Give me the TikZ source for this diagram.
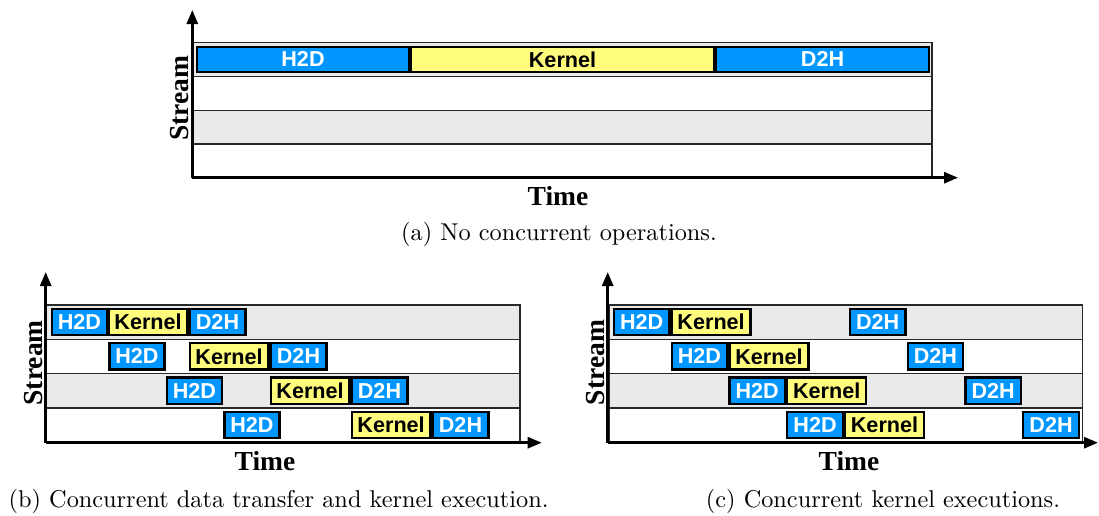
\documentclass[tikz,border=0pt]{standalone}
\usepackage{fontspec}
\newfontfamily\barfont{Liberation Sans}
\newfontfamily\axfont{Liberation Serif}
\newfontfamily\captfont[Extension=.otf]{lmroman10-regular}
\usetikzlibrary{arrows.meta}
\definecolor{xferblue}{RGB}{0,150,255}
\definecolor{kernyellow}{RGB}{255,251,125}
\definecolor{rowgray}{RGB}{234,234,234}
\definecolor{rowline}{RGB}{40,40,40}
\tikzset{
  bar/.style={draw=black, line width=2.3pt, inner sep=0pt,
    font=\barfont\bfseries\fontsize{21.6}{21.6}\selectfont},
  xfer/.style={bar, fill=xferblue, text=white},
  kern/.style={bar, fill=kernyellow, text=black},
  lane/.style={draw=rowline, line width=1.4pt},
  axis/.style={line width=2.7pt, -{Triangle[length=14pt,width=11pt]}},
  axlabel/.style={inner sep=0pt, font=\axfont\bfseries\fontsize{27.5}{27.5}\selectfont},
  capt/.style={inner sep=0pt, font=\captfont\fontsize{24.3}{24.3}\selectfont},
}
% bar: style, name, left x, right x, centre y, height, label
\newcommand\opbar[7]{%
  \node[#1, minimum width={#4-#3-2.3}, minimum height=#6] (#2) at ({(#3+#4)/2},#5) {#7};}
\begin{document}
\begin{tikzpicture}[x=1pt, y=-1pt]
\useasboundingbox (0,0) rectangle (1099,515);

% ---------- (a) no concurrency ----------
\foreach \i in {0,...,3} {
  \pgfmathsetmacro\top{42.7+33.75*\i}
  \ifodd\i \def\fc{white}\else\def\fc{rowgray}\fi
  \path[lane, fill=\fc] (192.7,\top) rectangle (932,\top+33.75);
}
\opbar{xfer}{aH}{196}{410}{59.4}{25.1}{H2D}
\opbar{kern}{aK}{410}{715}{59.4}{25.1}{Kernel}
\opbar{xfer}{aD}{715}{930}{59.4}{25.1}{D2H}
\coordinate (aO) at (192.3,177.7);
\coordinate (aY) at (192.3,10);
\coordinate (aX) at (958,177.7);
\draw[axis] (aO) -- (aY);
\draw[axis] (aO) -- (aX);
\node[axlabel, rotate=90, anchor=base] (aS) at (188.3,98.4) {Stream};
\node[axlabel, anchor=base] (aT) at (558,205.5) {Time};
\node[capt, anchor=base] (aC) at (559,240) {(a) No concurrent operations.};

% ---------- (b) transfer / kernel overlap ----------
\foreach \i in {0,...,3} {
  \pgfmathsetmacro\top{305+34.35*\i}
  \ifodd\i \def\fc{white}\else\def\fc{rowgray}\fi
  \path[lane, fill=\fc] (46.7,\top) rectangle (520,\top+34.35);
}
\foreach \i in {0,...,3} {
  \pgfmathsetmacro\yc{322+34.35*\i}
  \pgfmathsetmacro\hl{50.7+57.5*\i}
  \pgfmathsetmacro\hr{108.2+57.5*\i}
  \pgfmathsetmacro\kl{107.7+81*\i}
  \pgfmathsetmacro\kr{188.5+81*\i}
  \pgfmathsetmacro\dr{246.5+81*\i}
  \opbar{xfer}{bH\i}{\hl}{\hr}{\yc}{26.3}{H2D}
  \opbar{kern}{bK\i}{\kl}{\kr}{\yc}{26.3}{Kernel}
  \opbar{xfer}{bD\i}{\kr}{\dr}{\yc}{26.3}{D2H}
}
\coordinate (bO) at (45.7,442.7);
\coordinate (bY) at (45.7,272);
\coordinate (bX) at (541.7,442.7);
\draw[axis] (bO) -- (bY);
\draw[axis] (bO) -- (bX);
\node[axlabel, rotate=90, anchor=base] (bS) at (42.5,362.8) {Stream};
\node[axlabel, anchor=base] (bT) at (265,470.5) {Time};
\node[capt, anchor=base west] (bC) at (8.5,507) {(b) Concurrent data transfer and kernel execution.};

% ---------- (c) concurrent kernels ----------
\foreach \i in {0,...,3} {
  \pgfmathsetmacro\top{305+34.35*\i}
  \ifodd\i \def\fc{white}\else\def\fc{rowgray}\fi
  \path[lane, fill=\fc] (609,\top) rectangle (1082.3,\top+34.35);
}
\foreach \i in {0,...,3} {
  \pgfmathsetmacro\yc{322+34.35*\i}
  \pgfmathsetmacro\hl{612.7+57.8*\i}
  \pgfmathsetmacro\hr{670.5+57.8*\i}
  \pgfmathsetmacro\kr{751.7+57.8*\i}
  \pgfmathsetmacro\dl{848.7+57.8*\i}
  \pgfmathsetmacro\dr{906.5+57.8*\i}
  \opbar{xfer}{cH\i}{\hl}{\hr}{\yc}{26.3}{H2D}
  \opbar{kern}{cK\i}{\hr}{\kr}{\yc}{26.3}{Kernel}
  \opbar{xfer}{cD\i}{\dl}{\dr}{\yc}{26.3}{D2H}
}
\coordinate (cO) at (607.7,442.7);
\coordinate (cY) at (607.7,272);
\coordinate (cX) at (1098,442.7);
\draw[axis] (cO) -- (cY);
\draw[axis] (cO) -- (cX);
\node[axlabel, rotate=90, anchor=base] (cS) at (604,362.5) {Stream};
\node[axlabel, anchor=base] (cT) at (849,470.5) {Time};
\node[capt, anchor=base] (cC) at (883,507) {(c) Concurrent kernel executions.};
\end{tikzpicture}
\end{document}
